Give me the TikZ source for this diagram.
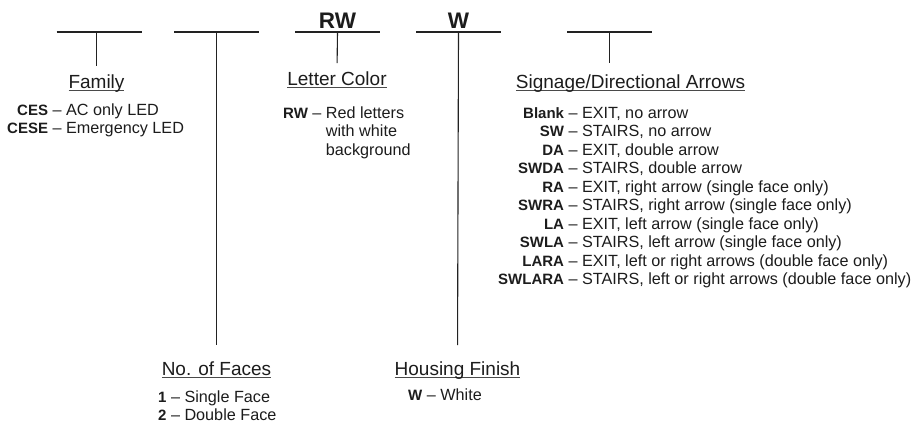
\documentclass[tikz,border=0pt]{standalone}
\usepackage{fontspec}
\setmainfont{Liberation Sans}
\usepackage{xcolor}
\usepackage{tikz}
\usetikzlibrary{positioning,calc}
\definecolor{InkBlack}{HTML}{1C1C1C}
\definecolor{RuleBlack}{HTML}{222222}
\definecolor{RuleGray}{HTML}{4A4A4A}
\newcommand{\headtext}[1]{\setbox0\hbox{#1}\rlap{\textcolor{RuleGray}{\rule[-3.4pt]{\wd0}{1.2pt}}}\box0}
\newcommand{\code}[1]{{\fontsize{15}{18.5}\selectfont\bfseries #1}}

\begin{document}
\begin{tikzpicture}[x=1pt,y=-1pt,
  blank/.style={minimum width=85pt,minimum height=0pt,inner sep=0pt,outer sep=0pt},
  rule/.style={line width=1.1pt,RuleBlack},
  stem/.style={line width=1.1pt,RuleBlack,shorten >=#1},
  pick/.style={font=\fontsize{22.5}{24}\selectfont\bfseries,text=InkBlack,anchor=base,inner sep=0pt},
  head/.style={font=\fontsize{19}{22}\selectfont,text=InkBlack,anchor=base,inner sep=0pt},
  list/.style={font=\fontsize{16.2}{18.5}\selectfont,text=InkBlack,anchor=base west,inner sep=0pt}
]
\useasboundingbox (0,0) rectangle (919,423);

% blanks of the catalogue number
\node[blank] (k1) at (99,32) {};
\node[blank] (k2) at (216.5,32) {};
\node[blank] (k3) at (337.5,32) {};
\node[blank] (k4) at (458.5,32) {};
\node[blank] (k5) at (609.5,32) {};
\foreach \k in {k1,k2,k3,k4,k5}
  \draw[rule] (\k.west) -- (\k.east);

\node[pick] (rw) at (337.5,28) {RW};
\node[pick] (w) at (458.5,28) {W};

% headings
\node[head] (fam) at (96.5,88) {\headtext{Family}};
\node[head] (faces) at (216.5,375) {\headtext{No. of Faces}};
\node[head] (color) at (337,85) {\headtext{Letter Color}};
\node[head] (finish) at (457.5,375) {\headtext{Housing Finish}};
\node[head] (sign) at (630.5,88) {\headtext{Signage/Directional Arrows}};

\draw[stem=8pt] (fam.north |- k1.center) -- (fam.north);
\draw[stem=16pt] (k2.center) -- (faces.north);
\draw[stem=8pt] (k3.center) -- (color.north);
\draw[stem=16pt] (k4.center) -- (finish.north);
\draw[stem=11pt] (k5.center) -- (k5.center |- sign.north);

% options
\node[list] (famlist) at (7,115) {\begin{tabular}[t]{@{}r@{ -- }l@{}}
  \code{CES} & AC only LED\\
  \code{CESE} & Emergency LED
\end{tabular}};
\node[list] (colorlist) at (283,118) {\begin{tabular}[t]{@{}r@{ -- }l@{}}
  \code{RW} & \begin{tabular}[t]{@{}l@{}}Red letters\\ with white\\ background\end{tabular}
\end{tabular}};
\node[list] (signlist) at (498,118) {\begin{tabular}[t]{@{}r@{ -- }l@{}}
  \code{Blank} & EXIT, no arrow\\
  \code{SW} & STAIRS, no arrow\\
  \code{DA} & EXIT, double arrow\\
  \code{SWDA} & STAIRS, double arrow\\
  \code{RA} & EXIT, right arrow (single face only)\\
  \code{SWRA} & STAIRS, right arrow (single face only)\\
  \code{LA} & EXIT, left arrow (single face only)\\
  \code{SWLA} & STAIRS, left arrow (single face only)\\
  \code{LARA} & EXIT, left or right arrows (double face only)\\
  \code{SWLARA} & STAIRS, left or right arrows (double face only)
\end{tabular}};
\node[list] (faceslist) at (158,402) {\begin{tabular}[t]{@{}r@{ -- }l@{}}
  \code{1} & Single Face\\
  \code{2} & Double Face
\end{tabular}};
\node[list] (finishlist) at (408,400) {\begin{tabular}[t]{@{}r@{ -- }l@{}}
  \code{W} & White
\end{tabular}};
\end{tikzpicture}
\end{document}
